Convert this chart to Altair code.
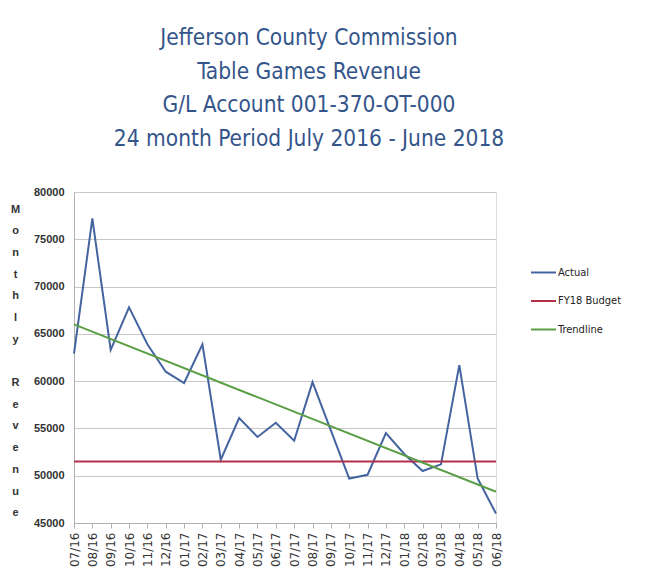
import altair as alt
import pandas as pd

months = ["07/16", "08/16", "09/16", "10/16", "11/16", "12/16", "01/17", "02/17",
          "03/17", "04/17", "05/17", "06/17", "07/17", "08/17", "09/17", "10/17",
          "11/17", "12/17", "01/18", "02/18", "03/18", "04/18", "05/18", "06/18"]
actual = [62900, 77200, 63300, 67800, 63900, 61000, 59800, 63900,
          51700, 56100, 54100, 55600, 53700, 59900, 54800, 49700,
          50100, 54500, 52300, 50500, 51200, 61700, 49700, 46000]
budget_value = 51500
trend_start = 66000
trend_end = 48300
series_names = ["Actual", "FY18 Budget", "Trendline"]
series_colors = ["#44649f", "#b3304a", "#5a9e45"]
y_ticks = [45000, 50000, 55000, 60000, 65000, 70000, 75000, 80000]
title_lines = ["Jefferson County Commission", "Table Games Revenue",
               "G/L Account 001-370-OT-000", "24 month Period July 2016 - June 2018"]
y_title = ["M", "o", "n", "t", "h", "l", "y", "\u2800", "R", "e", "v", "e", "n", "u", "e"]

NARROW = "DejaVu Sans Condensed, Roboto Condensed, Liberation Sans Narrow, Roboto, sans-serif"

rows = []
for m, v in zip(months, actual):
    rows.append({"month": m, "value": v, "series": "Actual"})
rows.append({"month": months[0], "value": budget_value, "series": "FY18 Budget"})
rows.append({"month": months[-1], "value": budget_value, "series": "FY18 Budget"})
rows.append({"month": months[0], "value": trend_start, "series": "Trendline"})
rows.append({"month": months[-1], "value": trend_end, "series": "Trendline"})
df = pd.DataFrame(rows)

chart = alt.Chart(df).mark_line(strokeWidth=2).encode(
    x=alt.X("month:O", sort=months, scale=alt.Scale(type="point", padding=0),
            axis=alt.Axis(title=None, labelAngle=-90, labelFont="DejaVu Sans",
                          labelFontSize=12, labelColor="#333333", tickColor="#b0b0b0",
                          tickSize=5, domainColor="#b0b0b0", labelPadding=4, grid=False)),
    y=alt.Y("value:Q", scale=alt.Scale(domain=[45000, 80000], nice=False, zero=False),
            axis=alt.Axis(values=y_ticks, format="d", title=y_title, titleAngle=0,
                          titleFont="Liberation Sans, DejaVu Sans", titleFontSize=11,
                          titleFontWeight="bold",
                          titleColor="#333333", titleLineHeight=21.7, titleBaseline="top",
                          titleAlign="center", titleX=-59, titleY=11,
                          labelFont="Liberation Sans", labelFontSize=11, labelFontWeight="bold",
                          labelColor="#333333", labelPadding=10, ticks=False,
                          domainColor="#b0b0b0", gridColor="#c8c8c8")),
    color=alt.Color("series:N", scale=alt.Scale(domain=series_names, range=series_colors),
                    legend=alt.Legend(title=None, orient="none", legendX=456, legendY=67,
                                      symbolType="stroke", symbolSize=625, symbolStrokeWidth=2,
                                      labelFont=NARROW, labelFontSize=11,
                                      labelColor="#222222", rowPadding=9.5, labelOffset=1)),
    detail="series:N",
).properties(
    width=422, height=331,
    title=alt.TitleParams(text=title_lines, font=NARROW, fontSize=22.5,
                          fontWeight="normal", color="#34558b", lineHeight=33.5,
                          anchor="middle", frame="group", dx=24, offset=36),
    autosize=alt.AutoSizeParams(type="none"),
    padding={"left": 66, "top": 184, "right": 149, "bottom": 50},
).configure_view(stroke=None).configure(background="white")

chart.save("out.html", embed_options={"renderer": "svg", "actions": False})
